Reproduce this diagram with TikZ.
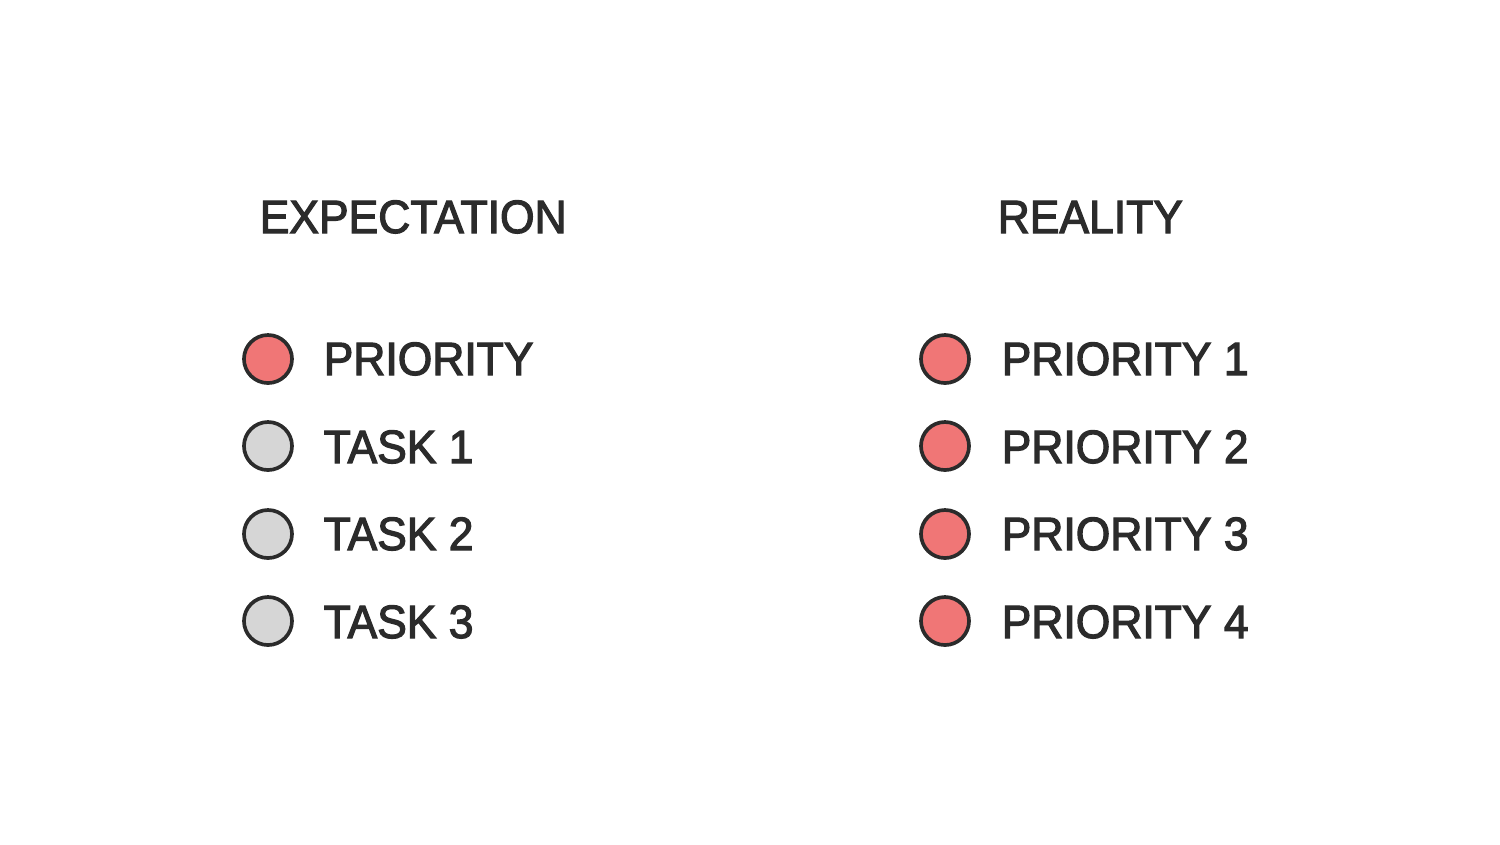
\documentclass[tikz,border=0pt]{standalone}
\usepackage{fontspec}
\setmainfont{Liberation Sans}
\newfontfamily\lblfont{Liberation Sans}[FakeBold=2.5,FakeStretch=0.95]
\definecolor{ink}{HTML}{2B2B2B}
\definecolor{prio}{HTML}{F07676}
\definecolor{task}{HTML}{D6D6D6}
\begin{document}
\begin{tikzpicture}[x=0.01cm,y=-0.01cm,
  dot/.style={circle,draw=ink,line width=1.05pt,minimum size=0.48cm,inner sep=0pt},
  pdot/.style={dot,fill=prio},
  tdot/.style={dot,fill=task},
  lbl/.style={anchor=base west,inner sep=0pt,text=ink,font=\lblfont\fontsize{13.3pt}{15pt}\selectfont},
  hdr/.style={lbl}]
\useasboundingbox (0,0) rectangle (1500,844);
\node[hdr] (h1) at (259,233) {EXPECTATION};
\node[hdr] (h2) at (997,233) {REALITY};
% left column
\node[pdot] (l1) at (268,359) {};
\node[tdot] (l2) at (268,446) {};
\node[tdot] (l3) at (268,534) {};
\node[tdot] (l4) at (268,621) {};
\node[lbl] (lt1) at (323,375) {PRIORITY};
\node[lbl] (lt2) at (323,463) {TASK 1};
\node[lbl] (lt3) at (323,550) {TASK 2};
\node[lbl] (lt4) at (323,638) {TASK 3};
% right column
\node[pdot] (r1) at (945,359) {};
\node[pdot] (r2) at (945,446) {};
\node[pdot] (r3) at (945,534) {};
\node[pdot] (r4) at (945,621) {};
\node[lbl] (rt1) at (1001,375) {PRIORITY 1};
\node[lbl] (rt2) at (1001,463) {PRIORITY 2};
\node[lbl] (rt3) at (1001,550) {PRIORITY 3};
\node[lbl] (rt4) at (1001,638) {PRIORITY 4};
\end{tikzpicture}
\end{document}
